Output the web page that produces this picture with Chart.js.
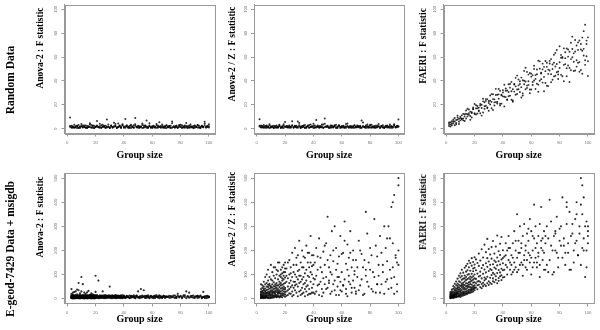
<!DOCTYPE html>
<html>
<head>
<meta charset="utf-8">
<script src="https://cdn.jsdelivr.net/npm/chart.js@4.4.1/dist/chart.umd.min.js"></script>
<style>
  html, body { margin: 0; padding: 0; background: #fff; }
  #fig { position: relative; width: 600px; height: 330px; overflow: hidden; }
  #fig canvas { position: absolute; left: 0; top: 0; }
  .lab {
    position: absolute; white-space: nowrap; color: #000;
    font-family: "Liberation Serif", "Times New Roman", serif; font-weight: bold;
    transform: translate(-50%, -50%) rotate(-90deg);
  }
</style>
</head>
<body>
<div id="fig"></div>
<script>
// tick labels
const xTicks = [0, 20, 40, 60, 80, 100];
const yTicksRandom = [0, 20, 40, 60, 80, 100];
const yTicksReal = [0, 100, 200, 300, 400, 500];

// random data: group sizes 2..100, three runs
const groupSizes = [2,3,4,5,6,7,8,9,10,11,12,13,14,15,16,17,18,19,20,21,22,23,24,25,26,27,28,29,30,31,
  32,33,34,35,36,37,38,39,40,41,42,43,44,45,46,47,48,49,50,51,52,53,54,55,56,57,58,59,60,61,
  62,63,64,65,66,67,68,69,70,71,72,73,74,75,76,77,78,79,80,81,82,83,84,85,86,87,88,89,90,91,
  92,93,94,95,96,97,98,99,100];

const anovaRandom = [
  9.5,1.2,2.1,0.8,1.6,2.4,1.1,0.6,1.9,2.8, 1.4,0.9,2.2,1.7,3.5,1.0,2.6,0.7,1.5,2.0,
  1.3,4.2,0.8,1.8,2.5,1.1,7.8,1.6,0.9,2.3, 1.4,5.1,2.0,0.7,1.2,2.7,1.5,3.8,0.9,8.2,
  1.8,1.1,2.4,0.6,1.7,2.9,9.0,1.3,2.2,0.8, 1.5,3.2,1.0,2.6,1.9,0.7,4.5,1.4,2.1,1.2,
  0.9,2.8,1.6,5.5,1.1,2.3,0.8,1.7,3.0,1.3, 2.5,0.7,6.0,1.9,1.2,2.4,0.9,1.6,3.3,1.1,
  2.0,0.8,4.8,1.5,2.7,1.0,1.8,0.6,2.2,1.4, 3.1,0.9,1.7,2.5,1.2,5.8,1.6,2.0,1.1,
  2.3,0.8,1.5,3.4,1.0,2.2,0.6,1.8,4.0,1.3, 2.6,1.1,0.7,2.0,1.5,3.2,0.9,2.4,1.2,6.5,
  1.7,0.8,2.9,1.4,2.1,0.6,1.9,3.6,1.0,2.5, 0.8,1.6,2.3,1.1,4.4,1.8,0.7,2.6,1.3,2.0,
  3.0,0.9,1.5,2.4,1.2,0.8,3.7,1.6,2.2,1.0, 1.9,0.7,2.8,1.4,6.8,1.1,2.0,0.9,1.7,2.5,
  1.2,3.9,0.8,1.5,2.3,1.0,1.8,0.6,2.7,1.4, 2.1,1.0,4.6,1.6,0.8,2.4,1.2,3.1,1.9,0.7,
  1.5,2.6,1.1,2.0,0.9,3.5,1.3,2.2,0.8,1.7, 2.9,1.2,0.7,2.1,1.6,4.1,1.0,2.4,3.8,
  1.6,2.5,0.9,1.3,2.0,0.7,3.1,1.4,2.2,1.0, 1.8,2.7,0.8,1.5,4.6,1.1,2.3,0.6,1.9,2.8,
  1.2,2.0,0.9,3.3,1.5,2.4,1.0,1.7,0.7,2.6, 1.3,2.1,4.0,0.8,1.6,2.3,1.1,2.9,1.4,0.9,
  2.2,1.5,0.7,3.4,1.8,1.0,2.5,1.2,0.8,2.0, 1.6,4.3,1.1,2.4,0.9,1.7,2.8,1.3,0.6,2.1,
  1.5,0.8,2.6,1.9,1.0,3.6,1.4,2.2,0.7,1.8, 1.1,2.5,0.9,1.6,2.0,1.3,0.8,2.7,1.5,3.0,
  1.0,1.8,2.3,0.7,1.4,2.1,1.2,0.9,2.6,1.6, 1.1,2.4,0.8,1.9,1.3,2.7,1.0,1.5,2.0
];

const anovaZRandom = [
  8.0,1.4,2.2,0.9,1.7,2.6,1.0,0.7,2.0,1.3, 2.5,1.1,0.8,1.9,3.4,1.2,2.3,0.6,1.6,2.1,
  1.0,2.8,1.5,6.2,0.9,2.4,1.3,6.0,1.8,0.7, 2.2,1.4,3.1,1.0,2.6,0.8,1.5,2.0,4.2,1.2,
  7.2,1.7,0.9,2.3,1.1,3.6,8.5,1.6,2.1,0.8, 1.4,2.7,1.0,1.9,3.3,0.7,2.2,1.5,1.1,2.5,
  0.9,1.8,4.4,1.3,2.0,0.8,1.6,2.8,1.1,2.3, 1.4,0.7,6.8,2.1,1.2,1.9,3.5,0.9,2.6,1.5,
  1.0,2.2,0.8,1.7,4.0,1.3,2.4,1.1,0.7,1.9, 2.8,1.4,0.9,2.1,1.6,3.2,1.0,2.5,7.8,
  1.8,2.6,1.0,1.5,2.3,0.8,1.9,3.8,1.2,2.1, 0.9,1.6,2.7,1.1,2.0,0.7,1.4,2.5,5.6,1.3,
  2.2,0.8,1.7,2.9,1.0,1.5,2.4,0.9,4.8,1.8, 1.2,2.6,0.7,1.6,2.1,1.0,3.5,1.4,2.3,0.8,
  1.9,2.7,1.1,1.5,2.0,0.9,4.1,1.7,2.4,1.2, 0.8,2.2,1.4,3.0,1.0,1.8,2.6,0.7,1.5,2.1,
  1.1,3.9,1.6,0.9,2.3,1.3,2.0,0.8,1.7,2.8, 1.2,2.4,1.0,5.2,1.5,0.7,2.1,1.9,1.1,3.3,
  1.6,0.8,2.5,1.3,2.0,1.0,1.7,2.9,0.9,1.4, 2.2,1.1,3.6,1.8,0.8,2.4,1.5,1.2,2.0,
  2.4,1.0,1.7,3.1,0.8,2.0,1.4,2.6,1.1,1.8, 0.7,2.3,1.5,1.0,2.8,1.3,0.9,3.7,1.6,2.1,
  1.2,1.9,0.8,2.5,1.4,2.2,1.0,1.7,2.9,0.9, 1.5,2.4,1.1,0.8,2.0,3.2,1.3,1.8,0.7,2.6,
  1.0,1.6,2.3,1.2,3.5,0.9,1.5,2.1,1.4,0.8, 2.7,1.1,1.9,2.4,0.7,1.3,3.0,1.6,2.2,1.0,
  1.8,0.8,2.5,1.4,1.1,2.0,0.9,2.9,1.5,1.2, 2.3,1.7,0.8,2.1,1.3,2.6,1.0,1.6,3.4,0.9,
  2.0,1.4,1.1,2.7,1.8,0.7,2.3,1.2,1.5,2.5, 1.0,1.9,2.2,0.8,1.6,3.8,1.3,2.1,1.7
];

const faeriRandom = [
  3.9,1.8,6.2,4.6,9.0,4.8,7.6,4.0,10.0,7.9, 12.4,10.3,8.6,16.7,11.7,14.3,9.4,16.6,12.9,19.6,
  12.8,17.7,19.4,11.0,22.9,18.9,23.3,17.9,21.6,27.8, 17.2,24.8,22.1,33.4,21.1,28.8,19.5,27.9,32.3,26.8,
  31.8,24.1,37.2,27.7,31.4,22.6,37.0,42.6,32.9,36.3, 30.8,42.8,29.6,40.2,51.0,36.1,39.7,29.8,46.1,36.6,
  50.1,41.7,45.6,36.9,56.4,41.5,49.7,31.4,48.2,55.3, 45.9,54.6,39.0,50.0,62.0,44.4,54.2,47.9,69.0,45.1,
  60.1,53.5,64.0,44.0,60.4,50.9,72.0,59.8,48.3,64.6, 57.3,72.3,55.8,71.0,46.0,66.9,87.1,60.7,56.5,
  2.3,5.5,4.4,7.7,2.9,7.3,9.3,5.8,8.9,8.3, 7.0,12.1,15.2,10.3,13.1,7.5,13.8,17.8,12.3,17.0,
  19.0,15.4,12.9,20.1,25.1,16.7,19.2,24.8,15.0,23.4, 22.5,28.9,19.5,22.3,28.5,33.3,20.9,28.4,27.1,18.7,
  33.7,32.0,27.2,37.4,24.2,33.1,37.5,28.5,44.5,33.0, 37.5,26.2,40.6,37.2,33.1,47.6,36.7,46.6,32.8,44.9,
  40.4,33.2,49.6,57.0,40.2,46.9,38.6,51.8,56.7,36.0, 49.5,56.8,45.7,41.0,55.2,52.1,65.9,45.5,50.8,59.4,
  44.0,67.3,59.1,50.6,66.3,39.1,58.3,66.7,56.1,74.3, 52.0,66.0,73.9,49.2,65.3,81.7,57.3,71.0,76.5,
  5.3,3.6,2.9,6.2,6.0,3.8,10.8,8.4,7.0,11.2, 8.7,6.5,12.5,12.1,16.1,10.6,13.2,16.3,20.7,11.9,
  17.1,14.7,20.8,17.3,13.6,22.2,24.8,17.1,23.2,20.3, 29.0,15.7,24.6,28.3,22.4,25.2,31.8,21.0,30.4,36.8,
  26.5,24.6,30.7,34.4,39.2,23.7,31.1,35.5,29.1,41.3, 39.8,34.8,27.8,48.4,39.6,34.2,45.3,32.9,43.6,39.1,
  52.7,44.9,37.7,30.9,50.3,46.3,54.5,43.4,38.3,51.8, 35.7,48.7,58.3,53.8,43.8,63.5,47.3,41.6,55.6,61.8,
  59.3,39.7,54.1,67.2,52.9,64.5,48.9,77.1,63.1,48.8, 69.7,55.3,47.7,66.4,76.3,61.3,53.5,73.8,44.2
];

// E-geod-7429 + msigdb gene sets
const setSizes = [
  3,3,3,3,3,3,3,3,3,3, 4,4,4,4,4,4,4,4,4,4, 5,5,5,5,5,5,5,5,5,5, 6,6,6,6,6,6,6,6,6,6,
  7,7,7,7,7,7,7,7,7,7, 8,8,8,8,8,8,8,8,8,8, 9,9,9,9,9,9,9,9,9,9, 10,10,10,10,10,10,10,10,10,10,
  11,11,11,11,11,11,11,11,11,11, 12,12,12,12,12,12,12,12,12,12, 13,13,13,13,13,13,13,13,13,13,
  14,14,14,14,14,14,14,14,14,14, 15,15,15,15,15,15,15,15,15,15, 16,16,16,16,16,16,16,16,16,16,
  17,17,17,17,17,17,17,17,17,17, 18,18,18,18,18,18,18,18,18,18, 19,19,19,19,19,19,19,19,19,19,
  20,20,20,20,20,20,20,20,20,20,
  21,21,21,21,21, 22,22,22,22,22, 23,23,23,23,23, 24,24,24,24,24, 25,25,25,25,25,
  26,26,26,26,26, 27,27,27,27,27, 28,28,28,28,28, 29,29,29,29,29, 30,30,30,30,30,
  31,31,31,31,31, 32,32,32,32,32, 33,33,33,33,33, 34,34,34,34,34, 35,35,35,35,35,
  36,36,36,36,36, 37,37,37,37,37, 38,38,38,38,38, 39,39,39,39,39, 40,40,40,40,40,
  41,41,41, 42,42,42, 43,43,43, 44,44,44, 45,45,45, 46,46,46, 47,47,47, 48,48,48, 49,49,49, 50,50,50,
  51,51,51, 52,52,52, 53,53,53, 54,54,54, 55,55,55, 56,56,56, 57,57,57, 58,58,58, 59,59,59, 60,60,60,
  61,61,61, 62,62,62, 63,63,63, 64,64,64, 65,65,65, 66,66,66, 67,67,67, 68,68,68, 69,69,69, 70,70,70,
  71,72,73,74,75,76,77,78,79,80,81,82,83,84,85,86,87,88,89,90,91,92,93,94,95,96,97,98,99,100,
  71,72,73,74,75,76,77,78,79,80,81,82,83,84,85,86,87,88,89,90,91,92,93,94,95,96,97,98,99,100,
  77,85,92,95,96,97,99,100,100
];

const anovaReal = [
  4,11,2,8,40,6,14,3,9,20, 7,2,13,5,10,3,16,8,1,25, 12,5,3,9,1,14,6,28,10,4, 2,8,15,4,11,6,30,3,13,7,
  9,3,6,12,2,18,5,10,38,4, 5,65,10,3,14,7,2,11,6,35, 13,4,8,1,22,6,12,3,9,15, 3,90,7,11,5,14,2,30,9,6,
  10,6,2,13,60,4,8,15,3,11, 1,12,7,4,10,25,6,2,14,8, 11,3,9,6,15,2,12,5,20,7,
  6,14,3,10,1,8,13,4,11,26, 8,2,12,5,9,32,3,14,6,10, 14,7,4,11,2,9,16,5,12,3,
  3,10,6,13,8,1,15,4,9,22, 9,5,14,2,11,7,3,12,18,6, 4,12,8,1,10,15,5,13,2,9,
  95,6,11,3,14,8,2,12,5,28,
  6,12,3,9,15, 75,8,4,11,2, 10,2,14,6,9, 5,9,7,13,3, 3,13,6,10,30,
  11,4,8,2,14, 7,15,2,10,5, 9,5,12,3,11, 4,10,6,14,8, 50,3,11,7,13,
  8,13,5,2,10, 2,9,14,6,11, 6,11,3,12,8, 12,4,8,15,2, 5,10,2,9,13,
  9,6,13,3,11, 3,12,7,10,5, 11,5,9,2,14, 7,2,14,8,4, 4,10,6,13,9,
  8,3,4, 12,5,11, 6,10,7, 2,13,3, 9,4,12, 11,7,6, 5,14,9, 10,3,2, 7,12,13, 30,6,5,
  9,2,8, 4,11,40, 13,6,6, 35,8,10, 5,12,3, 10,3,12, 7,14,7, 2,9,4, 12,6,11, 8,4,8,
  11,5,2, 3,13,9, 9,7,14, 6,10,5, 14,2,10, 5,11,6, 8,4,3, 12,7,12, 3,10,7, 9,6,9,
  7,12,4,10,6,13,3,20,8,11,5,9,14,2,10,25,6,12,4,8,11,3,9,13,5,7,10,2,12,6,
  9,4,11,6,13,3,8,12,5,10,2,14,7,30,9,4,11,6,13,3,8,12,5,10,2,28,7,11,4,9,
  5,9,12,4,8,3,10,6,7
];

const anovaZReal = [
  4,12,25,8,40,15,2,30,60,18, 10,3,22,45,7,15,33,55,5,28, 6,18,35,2,50,12,70,25,9,40,
  14,3,28,60,9,42,20,90,5,33, 8,25,50,4,36,15,65,22,100,11, 20,5,38,75,12,48,3,28,120,58,
  2,30,15,55,42,8,90,24,62,18, 12,45,6,80,28,140,18,52,35,3, 35,10,60,22,110,4,46,15,75,28,
  5,25,95,40,14,68,30,8,52,130, 18,50,8,85,32,130,12,60,24,42, 28,6,100,45,15,65,36,120,9,55,
  40,12,55,25,115,8,80,32,150,20, 10,48,22,150,35,70,5,95,28,60, 55,20,90,12,42,120,30,65,8,100,
  15,85,35,58,105,22,6,75,45,130, 30,140,12,62,95,40,20,80,50,110, 45,18,110,28,150,65,8,88,38,125,
  30,125,70,12,95, 85,15,50,150,35, 160,40,100,22,65, 20,75,130,48,105, 55,190,30,90,10,
  110,45,15,140,70, 70,210,35,100,55, 140,25,90,60,170, 50,180,10,115,80, 240,65,120,30,95,
  35,95,150,15,70, 200,20,80,130,45, 60,130,25,175,90, 105,40,170,10,65, 30,220,75,120,50,
  150,55,15,95,190, 90,190,40,130,20, 260,70,20,110,150, 45,135,100,25,180, 180,25,60,140,85,
  80,150,20, 30,210,95, 120,55,175, 250,15,60, 70,170,130, 110,40,10, 195,25,85, 60,140,220, 230,90,40, 340,45,160,
  130,75,65, 20,180,110, 100,280,30, 60,155,200, 300,35,75, 120,210,15, 50,90,145, 175,15,90, 260,70,35, 110,30,185,
  190,55,55, 320,80,240, 40,145,20, 225,10,120, 95,170,70, 60,280,190, 130,25,45, 200,75,160, 45,115,100, 160,20,30,
  90,240,55,185,130,20,360,70,150,210,40,110,330,25,175,95,260,60,140,20,210,80,300,120,45,230,90,170,30,200,
  130,35,200,80,15,160,95,270,50,120,180,30,90,220,60,140,25,190,110,300,70,155,40,250,85,130,20,180,60,140,
  120,60,250,380,400,430,150,500,470
];

const faeriReal = [
  7,3,18,11,5,27,9,14,2,21, 13,5,9,31,17,4,24,8,38,11, 6,22,14,41,9,29,3,17,52,11,
  25,8,47,16,33,5,19,62,12,38, 9,34,21,57,14,6,42,27,71,18, 44,11,29,8,63,37,19,52,24,83,
  15,58,31,9,46,72,22,38,95,12, 27,7,68,41,19,88,33,53,14,105, 36,62,11,94,25,47,18,78,55,120,
  19,49,83,30,13,66,108,41,24,58, 57,22,96,38,15,71,45,128,29,84, 31,77,18,52,112,40,90,23,64,136,
  45,20,99,63,34,145,26,81,53,118, 24,86,49,130,37,68,102,29,157,58, 70,33,116,48,25,92,61,148,39,80,
  40,103,58,27,137,74,46,168,88,35, 93,30,66,152,44,114,52,79,38,125, 56,128,35,84,172,47,100,68,142,42,
  118,46,82,163,64, 71,148,39,104,56, 136,58,92,187,73, 48,112,69,158,95, 84,205,61,127,43,
  103,66,171,52,139, 59,121,88,224,76, 147,82,53,109,193, 91,168,64,132,248, 72,115,206,57,154,
  123,87,183,66,141, 166,98,61,214,119, 84,239,107,143,72, 129,68,187,101,158, 93,152,216,78,124,
  171,106,64,138,262, 86,197,119,155,74, 142,93,228,109,181, 77,163,124,256,97, 118,201,88,147,169,
  175,120,90, 140,230,180, 200,100,130, 160,260,210, 120,210,150, 180,140,100, 230,110,170, 150,280,120, 200,130,240, 170,350,110,
  240,120,190, 190,300,140, 150,210,230, 260,140,95, 180,310,160, 220,130,200, 160,270,120, 240,190,290, 150,330,180, 280,170,100,
  200,130,260, 250,390,150, 170,300,210, 230,150,130, 190,260,175, 310,140,90, 210,380,240, 160,250,200, 280,190,120, 230,120,260,
  300,110,410,220,100,260,200,340,170,290,220,420,250,190,310,230,360,120,270,200,330,240,180,300,390,210,250,90,320,230,
  140,250,160,320,200,110,280,190,130,240,300,170,220,140,380,190,120,260,310,150,230,400,180,270,140,350,200,300,130,280,
  270,400,350,500,470,420,200,260,300
];

const runSizes = groupSizes.concat(groupSizes, groupSizes);

// layout of the 3x2 grid
const COL_LEFT = [64.5, 254, 443.5];
const ROW_TOP = [3.3, 173.3];
const BOX_W = 150, BOX_H = 130.2, Y_W = 12;
const XH = [27.5, 21.5];

const panels = [
  {row: 0, col: 0, x: runSizes, y: anovaRandom, yTicks: yTicksRandom, ylim: [-4, 104], r: 1, title: 'Anova-2 : F statistic', tx: 40, ty: 48},
  {row: 0, col: 1, x: runSizes, y: anovaZRandom, yTicks: yTicksRandom, ylim: [-4, 104], r: 1, title: 'Anova-2 / Z : F statistic', tx: 232, ty: 54},
  {row: 0, col: 2, x: runSizes, y: faeriRandom, yTicks: yTicksRandom, ylim: [-4, 104], r: 0.95, title: 'FAERI : F statistic', tx: 423, ty: 46},
  {row: 1, col: 0, x: setSizes, y: anovaReal, yTicks: yTicksReal, ylim: [-20, 520], r: 1.1, title: 'Anova-2 : F statistic', tx: 40, ty: 217},
  {row: 1, col: 1, x: setSizes, y: anovaZReal, yTicks: yTicksReal, ylim: [-20, 520], r: 1.05, title: 'Anova-2 / Z : F statistic', tx: 232, ty: 219},
  {row: 1, col: 2, x: setSizes, y: faeriReal, yTicks: yTicksReal, ylim: [-20, 520], r: 1.05, title: 'FAERI : F statistic', tx: 423, ty: 212}
];

const rowLabels = [
  {text: 'Random Data', x: 10, y: 80},
  {text: 'E-geod-7429 Data + msigdb', x: 10, y: 249}
];

const fig = document.getElementById('fig');
const GREY = '#9a9a9a';
const tickFont = {family: '"Liberation Sans", Arial, sans-serif', size: 4.2};

const boxPlugin = {
  id: 'box',
  afterDatasetsDraw(chart) {
    const a = chart.chartArea;
    const ctx = chart.ctx;
    ctx.save();
    ctx.strokeStyle = GREY;
    ctx.lineWidth = 1;
    ctx.strokeRect(Math.round(a.left) + 0.5, Math.round(a.top) + 0.5, Math.round(a.right - a.left), Math.round(a.bottom - a.top));
    ctx.restore();
  }
};

function addLabel(text, x, y, size) {
  const d = document.createElement('div');
  d.className = 'lab';
  d.textContent = text;
  d.style.left = x + 'px';
  d.style.top = y + 'px';
  d.style.fontSize = size + 'px';
  fig.appendChild(d);
}

function makePanel(p) {
  const canvas = document.createElement('canvas');
  canvas.width = 600;
  canvas.height = 330;
  fig.appendChild(canvas);
  const left = COL_LEFT[p.col], top = ROW_TOP[p.row], xh = XH[p.row];
  const points = p.x.map((v, i) => ({x: v, y: p.y[i]}));
  new Chart(canvas, {
    type: 'scatter',
    data: {
      datasets: [{
        data: points,
        pointRadius: p.r,
        pointBorderWidth: 0,
        pointBackgroundColor: 'rgba(0,0,0,0.82)'
      }]
    },
    options: {
      responsive: false,
      animation: false,
      events: [],
      layout: {
        padding: {left: left - Y_W, top: top, right: 600 - left - BOX_W, bottom: 330 - top - BOX_H - xh}
      },
      plugins: {legend: {display: false}, tooltip: {enabled: false}},
      scales: {
        x: {
          type: 'linear',
          min: -1.92,
          max: 103.92,
          afterBuildTicks: s => { s.ticks = xTicks.map(v => ({value: v})); },
          afterFit: s => { s.height = xh; },
          grid: {drawOnChartArea: false, drawTicks: true, tickLength: 3, tickColor: GREY},
          border: {display: true, color: GREY},
          ticks: {font: tickFont, color: '#777', padding: 3.5, maxRotation: 0, autoSkip: false},
          title: {display: true, text: 'Group size', color: '#000', padding: 0,
                  font: {family: '"Liberation Serif", "Times New Roman", serif', weight: 'bold', size: 10}}
        },
        y: {
          type: 'linear',
          min: p.ylim[0],
          max: p.ylim[1],
          afterBuildTicks: s => { s.ticks = p.yTicks.map(v => ({value: v})); },
          afterFit: s => { s.width = Y_W; },
          grid: {drawOnChartArea: false, drawTicks: true, tickLength: 3, tickColor: GREY},
          border: {display: true, color: GREY},
          ticks: {font: tickFont, color: '#777', padding: 2, minRotation: 90, maxRotation: 90, crossAlign: 'center', autoSkip: false}
        }
      }
    },
    plugins: [boxPlugin]
  });
  addLabel(p.title, p.tx, p.ty, 9.5);
}

panels.forEach(makePanel);
rowLabels.forEach(l => addLabel(l.text, l.x, l.y, 11.5));
</script>
</body>
</html>
